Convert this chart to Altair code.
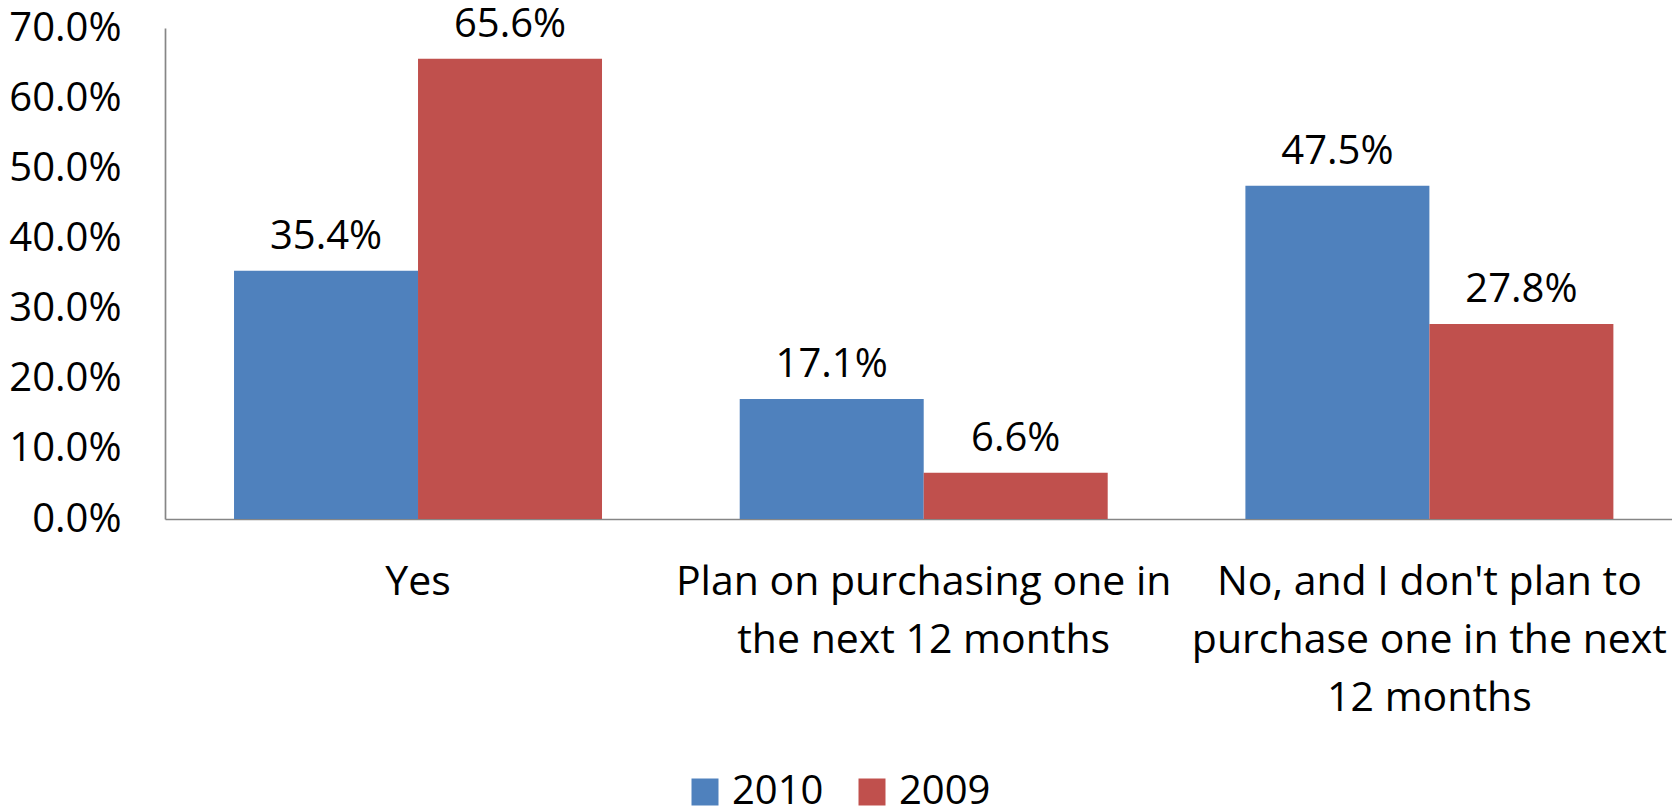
import altair as alt
import pandas as pd

# Data
label_lines = [
    "Yes",
    "Plan on purchasing one in|the next 12 months",
    "No, and I don't plan to|purchase one in the next|12 months",
]
series = ["2010", "2009"]
values_2010 = [35.4, 17.1, 47.5]
values_2009 = [65.6, 6.6, 27.8]
colors = ["#4F81BD", "#C0504D"]
y_ticks = [0.0, 0.1, 0.2, 0.3, 0.4, 0.5, 0.6, 0.7]

rows = []
for cat, v10, v09 in zip(label_lines, values_2010, values_2009):
    rows.append({"category": cat, "series": "2010", "value": v10 / 100})
    rows.append({"category": cat, "series": "2009", "value": v09 / 100})
df = pd.DataFrame(rows)

FONT = "Open Sans"
FS = 40

base = alt.Chart(df).encode(
    x=alt.X(
        "category:N",
        sort=label_lines,
        scale=alt.Scale(paddingInner=0.2723, paddingOuter=0.1262, align=0.5408),
        axis=alt.Axis(
            title=None,
            labelExpr="split(datum.label, '|')",
            labelAngle=0,
            labelFont=FONT,
            labelFontSize=41,
            labelColor="black",
            labelPadding=43,
            labelLineHeight=58,
            labelLimit=800,
            labelOverlap=False,
            ticks=False,
            domainColor="#868686",
            domainWidth=1.7,
        ),
    ),
    xOffset=alt.XOffset(
        "series:N", sort=series, scale=alt.Scale(domain=series, paddingInner=0, paddingOuter=0)
    ),
    y=alt.Y(
        "value:Q",
        scale=alt.Scale(domain=[0, 0.7], nice=False),
        axis=alt.Axis(
            title=None,
            format=".1%",
            values=y_ticks,
            grid=False,
            ticks=False,
            labelFont=FONT,
            labelFontSize=FS,
            labelColor="black",
            labelPadding=44,
            domainColor="#868686",
            domainWidth=1.7,
        ),
    ),
)

bars = base.mark_bar().encode(
    color=alt.Color(
        "series:N",
        sort=series,
        scale=alt.Scale(domain=series, range=colors),
        legend=alt.Legend(
            title=None,
            orient="none",
            legendX=520,
            legendY=744,
            direction="horizontal",
            symbolType="square",
            symbolSize=729,
            symbolStrokeWidth=0,
            labelFont=FONT,
            labelFontSize=FS,
            labelColor="black",
            labelOffset=7,
            columnPadding=28,
            padding=0,
        ),
    )
)

text = base.mark_text(
    baseline="alphabetic", dy=-22, font=FONT, fontSize=FS, color="black"
).encode(text=alt.Text("value:Q", format=".1%"))

chart = (
    alt.layer(bars, text)
    .properties(
        width=1507,
        height=491,
        autosize=alt.AutoSizeParams(type="none"),
        padding={"left": 157, "top": 20, "right": 0, "bottom": 289},
        background="white",
    )
    .configure_view(stroke=None)
)

chart.save("out.html", embed_options={"renderer": "svg", "actions": False})
